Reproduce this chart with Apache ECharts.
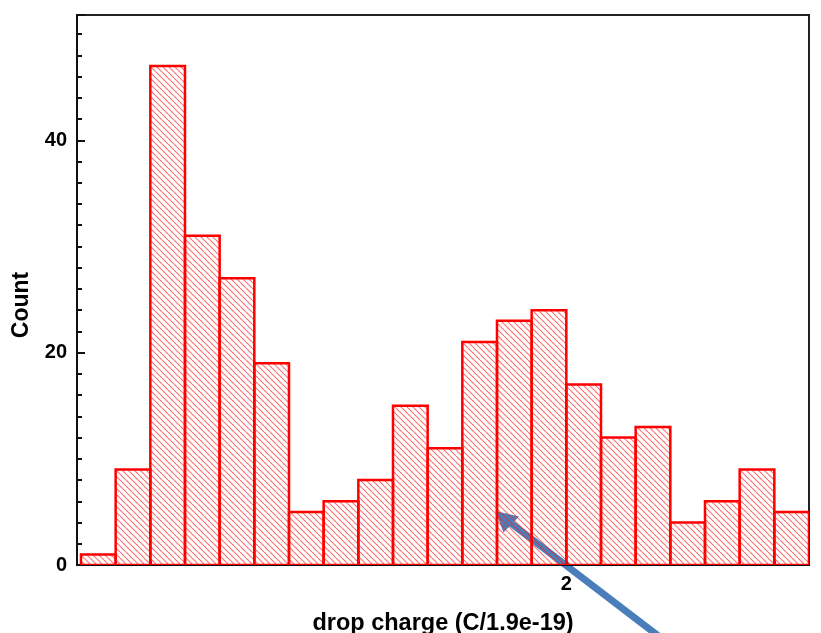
<!DOCTYPE html>
<html>
<head>
<meta charset="utf-8">
<style>
  html, body { margin: 0; padding: 0; background: #fff; }
  #chart { width: 821px; height: 633px; }
</style>
<script src="https://cdn.jsdelivr.net/npm/echarts@6/dist/echarts.min.js"></script>
</head>
<body>
<div id="chart"></div>
<script>
// Histogram bins: left edge of each bin (width 0.1) and its count
const binLeft = [0.6, 0.7, 0.8, 0.9, 1.0, 1.1, 1.2, 1.3, 1.4, 1.5, 1.6,
                 1.7, 1.8, 1.9, 2.0, 2.1, 2.2, 2.3, 2.4, 2.5, 2.6];
const binWidth = 0.1;
const counts = [1, 9, 47, 31, 27, 19, 5, 6, 8, 15, 11,
                21, 23, 24, 17, 12, 13, 4, 6, 9, 5];
const xTicks = [0.8, 1.0, 1.2, 1.4, 1.6, 1.8, 2.0, 2.2, 2.4, 2.6];
const xTickLabels = [2];

const FONT = '"Liberation Sans", Arial, Helvetica, sans-serif';

// Diagonal hatch tile for the bar fill
function makeHatch() {
  const s = 6;
  const c = document.createElement('canvas');
  c.width = s; c.height = s;
  const g = c.getContext('2d');
  g.strokeStyle = 'rgba(255,30,30,0.65)';
  g.lineWidth = 1.1;
  for (let k = -1; k <= 1; k++) {
    g.beginPath();
    g.moveTo(k * s, 0);
    g.lineTo(k * s + s, s);
    g.stroke();
  }
  return { image: c, repeat: 'repeat' };
}
const hatch = makeHatch();

const chart = echarts.init(document.getElementById('chart'));
chart.setOption({
  animation: false,
  backgroundColor: '#fff',
  grid: {
    left: 77, right: 12, top: 15, bottom: 68,
    containLabel: false,
    outerBoundsMode: 'none',
    show: true, borderColor: '#222', borderWidth: 2, backgroundColor: 'transparent'
  },
  xAxis: {
    type: 'value',
    min: 0.5885,
    max: 2.7,
    name: 'drop charge (C/1.9e-19)',
    nameLocation: 'middle',
    nameGap: 47,
    nameTextStyle: { fontFamily: FONT, fontWeight: 'bold', fontSize: 23.5, color: '#000' },
    axisLine: { show: true, lineStyle: { color: '#111', width: 2 } },
    axisTick: { show: true, inside: true, length: 4, customValues: xTicks,
                lineStyle: { color: '#111', width: 2 } },
    axisLabel: { show: true, customValues: xTickLabels, margin: 9,
                 fontFamily: FONT, fontWeight: 'bold', fontSize: 20, color: '#000' },
    splitLine: { show: false }
  },
  yAxis: {
    type: 'value',
    min: 0,
    max: 51.8,
    interval: 20,
    name: 'Count',
    nameLocation: 'middle',
    nameGap: 44,
    nameTextStyle: { fontFamily: FONT, fontWeight: 'bold', fontSize: 23, color: '#000',
                     padding: [0, 30, 0, 0] },
    axisLine: { show: true, lineStyle: { color: '#111', width: 2 } },
    axisTick: { show: true, inside: true, length: 8, lineStyle: { color: '#111', width: 2 } },
    minorTick: { show: true, splitNumber: 10, length: 5, lineStyle: { color: '#111', width: 2 } },
    axisLabel: { margin: 10, fontFamily: FONT, fontWeight: 'bold', fontSize: 20, color: '#000',
                 showMaxLabel: false },
    splitLine: { show: false }
  },
  series: [{
    type: 'custom',
    data: binLeft.map((x, i) => [x, x + binWidth, counts[i]]),
    encode: { x: [0, 1], y: 2 },
    clip: true,
    renderItem: function (params, api) {
      const p0 = api.coord([api.value(0), api.value(2)]);
      const p1 = api.coord([api.value(1), 0]);
      return {
        type: 'rect',
        shape: { x: p0[0], y: p0[1], width: p1[0] - p0[0], height: p1[1] - p0[1] },
        style: { fill: hatch, stroke: '#ff0000', lineWidth: 2.5 }
      };
    }
  }],
  graphic: [{
    type: 'group',
    silent: true,
    children: [
      { type: 'line', shape: { x1: 665, y1: 641, x2: 508, y2: 521 },
        style: { stroke: '#4a7ebb', lineWidth: 7 } },
      { type: 'polygon', shape: { points: [[495.5, 511], [519, 516.5], [503.5, 532.5]] },
        style: { fill: '#4a7ebb' } }
    ]
  }]
});
</script>
</body>
</html>
